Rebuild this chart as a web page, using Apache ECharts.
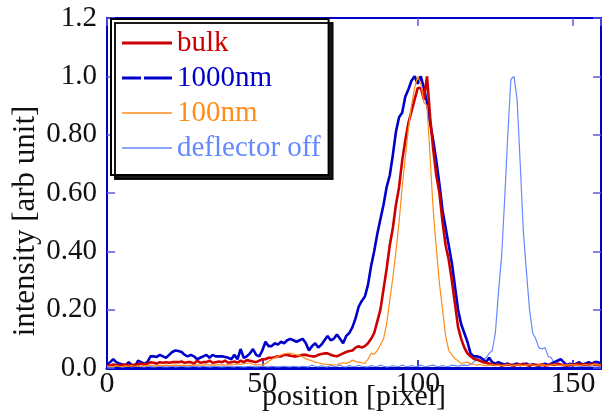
<!DOCTYPE html>
<html><head><meta charset="utf-8">
<script src="https://cdn.jsdelivr.net/npm/echarts@6/dist/echarts.min.js"></script>
<style>html,body{margin:0;padding:0;background:#fff;overflow:hidden}#c{width:602px;height:415px}</style>
</head><body><div id="c"></div>
<script>
const seriesNames = ['bulk', '1000nm', '100nm', 'deflector off'];
const xTickLabels = ['0', '50', '100', '150'];
const yTickLabels = ['0.0', '0.20', '0.40', '0.60', '0.80', '1.0', '1.2'];
const xTitle = 'position [pixel]';
const yTitle = 'intensity [arb unit]';
const positions = Array.from({length: 160}, (_, i) => i);

const bulk = [
0.01,0.008,0.012,0.01,0.008,0.01,0.012,0.008,0.01,0.012,
0.012,0.015,0.012,0.015,0.02,0.018,0.015,0.02,0.018,0.02,
0.018,0.02,0.02,0.02,0.022,0.018,0.02,0.02,0.015,0.025,
0.018,0.02,0.02,0.025,0.018,0.02,0.022,0.02,0.025,0.018,
0.02,0.022,0.018,0.025,0.02,0.027,0.025,0.022,0.02,0.025,
0.03,0.03,0.035,0.035,0.037,0.04,0.04,0.045,0.045,0.042,
0.04,0.04,0.042,0.045,0.045,0.042,0.04,0.04,0.045,0.048,
0.05,0.05,0.045,0.042,0.04,0.045,0.05,0.055,0.058,0.06,
0.07,0.075,0.07,0.075,0.085,0.1,0.12,0.16,0.2,0.27,
0.34,0.42,0.48,0.56,0.62,0.71,0.78,0.84,0.88,0.92,
0.96,0.96,0.92,1.0,0.86,0.75,0.66,0.6,0.5,0.42,
0.37,0.3,0.22,0.14,0.1,0.07,0.05,0.04,0.032,0.028,
0.025,0.02,0.018,0.015,0.012,0.01,0.012,0.008,0.01,0.012,
0.01,0.008,0.012,0.01,0.015,0.01,0.008,0.012,0.01,0.01,
0.012,0.008,0.01,0.012,0.01,0.015,0.012,0.01,0.008,0.012,
0.01,0.012,0.015,0.01,0.012,0.01,0.015,0.012,0.01,0.012];

const nm1000 = [
0.01,0.02,0.03,0.02,0.015,0.012,0.01,0.02,0.01,0.005,
0.025,0.02,0.015,0.02,0.04,0.04,0.038,0.045,0.04,0.035,
0.045,0.055,0.06,0.058,0.055,0.045,0.04,0.045,0.04,0.03,
0.035,0.04,0.045,0.035,0.045,0.04,0.04,0.04,0.038,0.035,
0.03,0.045,0.03,0.065,0.035,0.04,0.05,0.065,0.045,0.04,
0.06,0.09,0.075,0.075,0.085,0.08,0.09,0.085,0.095,0.1,
0.095,0.09,0.095,0.1,0.085,0.06,0.075,0.085,0.07,0.08,
0.095,0.11,0.095,0.1,0.115,0.1,0.085,0.11,0.12,0.14,
0.17,0.21,0.23,0.245,0.285,0.35,0.4,0.46,0.51,0.56,
0.62,0.66,0.73,0.81,0.86,0.875,0.93,0.955,0.985,1.0,
0.975,1.0,0.96,0.91,0.84,0.78,0.71,0.63,0.54,0.48,
0.42,0.36,0.28,0.2,0.15,0.12,0.09,0.05,0.04,0.04,
0.037,0.03,0.02,0.035,0.02,0.015,0.02,0.015,0.012,0.015,
0.01,0.012,0.015,0.01,0.012,0.015,0.01,0.012,0.01,0.008,
0.01,0.015,0.01,0.015,0.02,0.025,0.03,0.02,0.01,0.015,
0.01,0.015,0.02,0.012,0.015,0.02,0.015,0.02,0.02,0.015];

const nm100 = [
0.005,0.006,0.005,0.008,0.006,0.005,0.007,0.006,0.008,0.006,
0.007,0.006,0.008,0.007,0.01,0.008,0.007,0.009,0.008,0.01,
0.008,0.009,0.01,0.008,0.01,0.009,0.008,0.01,0.009,0.011,
0.01,0.009,0.012,0.01,0.011,0.01,0.012,0.011,0.01,0.012,
0.011,0.012,0.014,0.012,0.015,0.016,0.018,0.012,0.01,0.012,
0.01,0.015,0.022,0.03,0.035,0.04,0.045,0.048,0.05,0.05,
0.048,0.045,0.042,0.038,0.032,0.028,0.025,0.02,0.018,0.015,
0.013,0.012,0.012,0.01,0.012,0.015,0.018,0.016,0.02,0.027,
0.022,0.02,0.018,0.016,0.03,0.05,0.047,0.06,0.08,0.1,
0.15,0.23,0.31,0.4,0.5,0.62,0.72,0.82,0.9,0.96,
1.0,0.975,0.91,0.9,0.72,0.54,0.41,0.29,0.2,0.11,
0.06,0.045,0.032,0.025,0.016,0.018,0.02,0.015,0.012,0.01,
0.012,0.01,0.008,0.01,0.012,0.009,0.01,0.008,0.01,0.012,
0.01,0.009,0.011,0.01,0.008,0.01,0.012,0.01,0.009,0.01,
0.011,0.01,0.008,0.01,0.012,0.01,0.009,0.011,0.01,0.012,
0.01,0.011,0.009,0.01,0.012,0.01,0.011,0.013,0.01,0.012];

const deflectorOff = [
0.004,0.005,0.004,0.006,0.005,0.004,0.005,0.006,0.004,0.005,
0.006,0.005,0.004,0.006,0.005,0.004,0.005,0.006,0.005,0.004,
0.005,0.006,0.004,0.005,0.006,0.005,0.004,0.005,0.006,0.005,
0.004,0.006,0.005,0.004,0.005,0.006,0.005,0.004,0.005,0.006,
0.005,0.004,0.006,0.005,0.004,0.005,0.006,0.005,0.004,0.005,
0.006,0.005,0.004,0.006,0.005,0.004,0.005,0.006,0.005,0.004,
0.006,0.005,0.004,0.006,0.005,0.004,0.01,0.006,0.004,0.008,
0.005,0.004,0.009,0.005,0.006,0.01,0.005,0.004,0.008,0.006,
0.005,0.009,0.006,0.005,0.004,0.008,0.006,0.005,0.01,0.006,
0.004,0.005,0.008,0.006,0.005,0.01,0.006,0.005,0.008,0.006,
0.005,0.01,0.006,0.005,0.008,0.01,0.006,0.005,0.008,0.006,
0.005,0.01,0.008,0.006,0.009,0.01,0.008,0.012,0.02,0.03,
0.037,0.027,0.035,0.05,0.06,0.12,0.26,0.38,0.58,0.8,
0.99,1.0,0.92,0.7,0.47,0.33,0.2,0.12,0.1,0.07,
0.065,0.07,0.04,0.035,0.015,0.01,0.008,0.006,0.008,0.005,
0.006,0.008,0.005,0.006,0.007,0.005,0.006,0.008,0.006,0.005];

const colors = ['#cc0000', '#0000cc', '#ff8c1a', '#6688ff'];
const widths = [2.6, 2.6, 1.2, 1.2];
const allData = [bulk, nm1000, nm100, deflectorOff];
const legendIcons = [
  'path://M0,0h50v3h-50z',
  'path://M0,0h19v3h-19z M22,0h28v3h-28z',
  'path://M0,0h50v1.4h-50z',
  'path://M0,0h50v1.4h-50z'
];

const FONT = '"Liberation Serif", "Times New Roman", serif';
const AX = '#0000cc';
const TICK = '#5a5adf';

const chart = echarts.init(document.getElementById('c'), null, {renderer: 'canvas'});

const yFmt = v => {
  const idx = Math.round(v / 0.2);
  return yTickLabels[idx] !== undefined ? yTickLabels[idx] : '';
};
const xFmt = v => {
  const idx = Math.round(v / 50);
  return xTickLabels[idx] !== undefined ? xTickLabels[idx] : '';
};

chart.setOption({
  animation: false,
  backgroundColor: '#fff',
  grid: {left: 107, right: 1, top: 18, bottom: 47, containLabel: false, outerBoundsMode: 'none'},
  legend: {
    orient: 'vertical',
    left: 111, top: 19,
    data: seriesNames.map((n, i) => ({
      name: n,
      icon: legendIcons[i],
      itemStyle: {color: colors[i], borderWidth: 0},
      textStyle: {color: colors[i]}
    })),
    itemWidth: 50, itemHeight: 3, itemGap: 5,
    padding: [9, 8, 12, 11],
    backgroundColor: '#fff',
    borderColor: '#000', borderWidth: 2, borderRadius: 0,
    shadowColor: 'rgba(0,0,0,0.9)', shadowOffsetX: 4, shadowOffsetY: 4, shadowBlur: 0,
    textStyle: {fontFamily: FONT, fontSize: 29, lineHeight: 30, padding: [0, 0, 0, 0]},
    selectedMode: false
  },
  graphic: [{
    type: 'text', x: 26, y: 221, rotation: Math.PI / 2,
    style: {text: yTitle, font: '31px "Liberation Serif", serif', fill: '#111', align: 'center', verticalAlign: 'middle'}
  }],
  xAxis: [{
    type: 'value', min: 0, max: 159, interval: 50, position: 'bottom',
    name: xTitle, nameLocation: 'middle', nameGap: 14, nameMoveOverlap: false,
    nameTextStyle: {fontFamily: FONT, fontSize: 30, color: '#111'},
    axisLine: {show: true, onZero: false, lineStyle: {color: AX, width: 3}},
    axisTick: {show: true, inside: true, length: 8, lineStyle: {color: AX, width: 1.5}},
    axisLabel: {formatter: xFmt, fontFamily: FONT, fontSize: 30, color: '#111', margin: 1, showMaxLabel: false},
    splitLine: {show: false}
  }, {
    type: 'value', min: 0, max: 159, interval: 50, position: 'top',
    axisLine: {show: true, onZero: false, lineStyle: {color: AX, width: 2}},
    axisTick: {show: true, inside: true, length: 8, lineStyle: {color: TICK, width: 1.5}},
    axisLabel: {show: false}, splitLine: {show: false}
  }],
  yAxis: [{
    type: 'value', min: 0, max: 1.2, interval: 0.2, position: 'left',
    axisLine: {show: true, onZero: false, lineStyle: {color: AX, width: 2}},
    axisTick: {show: true, inside: true, length: 8, lineStyle: {color: TICK, width: 1.5}},
    axisLabel: {formatter: yFmt, fontFamily: FONT, fontSize: 29, color: '#111', margin: 10},
    splitLine: {show: false}
  }, {
    type: 'value', min: 0, max: 1.2, interval: 0.2, position: 'right',
    axisLine: {show: true, onZero: false, lineStyle: {color: AX, width: 2}},
    axisTick: {show: true, inside: true, length: 8, lineStyle: {color: TICK, width: 1.5}},
    axisLabel: {show: false}, splitLine: {show: false}
  }],
  series: seriesNames.map((n, i) => ({
    name: n, type: 'line', xAxisIndex: 0, yAxisIndex: 0,
    data: positions.map((x, k) => [x, allData[i][k]]),
    symbol: 'none', showSymbol: false,
    lineStyle: {color: colors[i], width: widths[i]},
    itemStyle: {color: colors[i]},
    z: [3, 2, 4, 1][i]
  }))
});
</script></body></html>
